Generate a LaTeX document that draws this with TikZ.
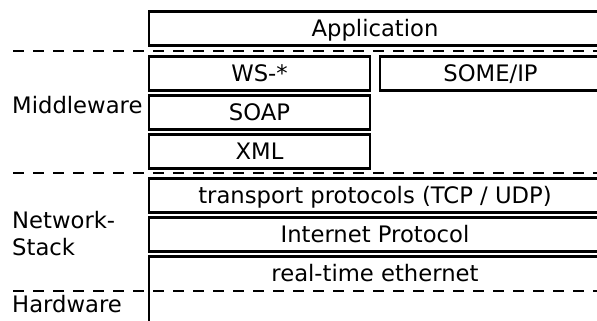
\documentclass[tikz,border=0pt]{standalone}
\usepackage{fontspec}
\setmainfont{DejaVu Sans}
\usetikzlibrary{positioning}

\tikzset{
  layer/.style={draw, line width=2.8pt, inner sep=0pt, outer sep=0pt,
    minimum height=34pt, text height=17pt, text depth=1pt},
  widelayer/.style={layer, minimum width=452pt},
  halflayer/.style={layer, minimum width=221pt},
  sepline/.style={line width=2.8pt, dash pattern=on 11pt off 9pt},
  tier/.style={inner sep=0pt, align=left}
}

\begin{document}
\begin{tikzpicture}[x=1pt,y=-1pt,font=\fontsize{22.7pt}{27pt}\selectfont]
  \useasboundingbox (0,0) rectangle (597,321);
  \clip (0,0) rectangle (597,321);

  % stack
  \node[widelayer, anchor=north west] (app) at (149,11.5) {Application};
  \node[halflayer, below right=11pt and 0pt of app.south west] (ws) {WS-*};
  \node[halflayer, right=10pt of ws] (someip) {SOME/IP};
  \node[halflayer, below right=5pt and 0pt of ws.south west] (soap) {SOAP};
  \node[halflayer, below right=5pt and 0pt of soap.south west] (xml) {XML};
  \node[widelayer, below right=10pt and 0pt of xml.south west] (tcp) {transport protocols (TCP / UDP)};
  \node[widelayer, below right=5pt and 0pt of tcp.south west] (ip) {Internet Protocol};
  \node[widelayer, draw=none, below right=5pt and 0pt of ip.south west] (eth) {real-time ethernet};
  \draw[line width=2.8pt] (eth.south west) -- (eth.north west) -- (eth.north east) -- (eth.south east)
    -- ++(0,60);
  \draw[line width=2.8pt] (eth.south west) -- ++(0,60);

  % separators
  \draw[sepline] (13,51) -- (597,51);
  \draw[sepline] (13,173) -- (597,173);
  \draw[sepline] (13,291) -- (597,291);

  % tiers
  \node[tier, anchor=base west] (mw) at (12,113) {Middleware};
  \node[tier, anchor=north west] (net) at (12,211) {Network-\\Stack};
  \node[tier, anchor=base west] (hw) at (12,312) {Hardware};
\end{tikzpicture}
\end{document}
